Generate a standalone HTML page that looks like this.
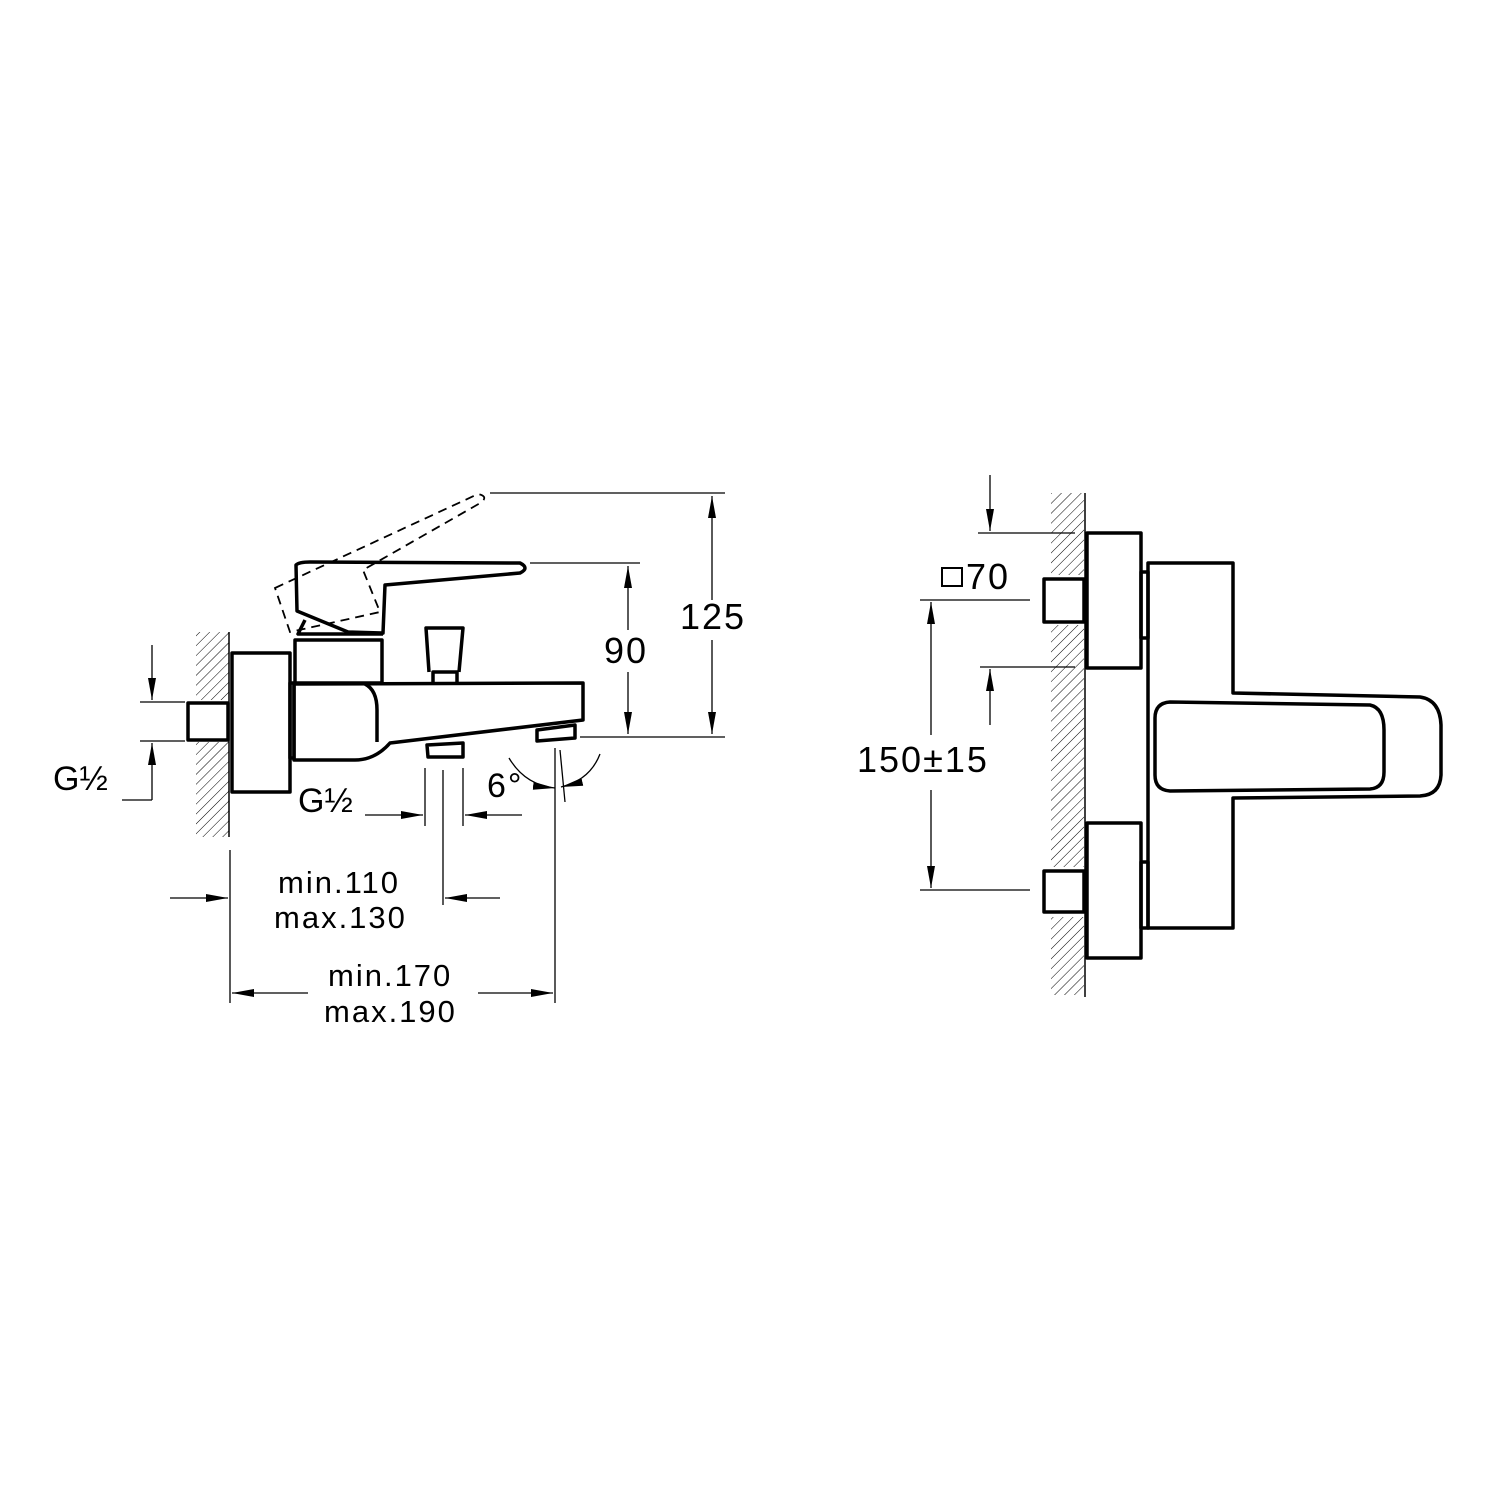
<!DOCTYPE html>
<html><head><style>body{margin:0;background:#fff}svg{display:block}</style></head>
<body>
<svg width="1500" height="1500" viewBox="0 0 1500 1500" xmlns="http://www.w3.org/2000/svg">
<defs>
<pattern id="h" width="7" height="7" patternUnits="userSpaceOnUse" patternTransform="rotate(45)">
<line x1="0" y1="0" x2="0" y2="7" stroke="#000" stroke-width="1"/>
</pattern>
<marker id="a" viewBox="0 0 22 10" refX="22" refY="5" markerWidth="22" markerHeight="10" markerUnits="userSpaceOnUse" orient="auto-start-reverse">
<path d="M0,1 L22,5 L0,9 Z" fill="#000"/>
</marker>
</defs>
<g font-family="Liberation Sans, sans-serif" font-size="34" fill="#000" letter-spacing="2">
<!-- LEFT VIEW -->
<rect x="196" y="632" width="33" height="68" fill="url(#h)"/>
<rect x="196" y="742" width="33" height="95" fill="url(#h)"/>
<line x1="229" y1="632" x2="229" y2="837" stroke="#000" stroke-width="1.5"/>
<g fill="none" stroke="#000" stroke-width="3.5" stroke-linejoin="round">
<rect x="188" y="703" width="40" height="37"/>
<rect x="232" y="653" width="58" height="139"/>
<rect x="290" y="683" width="4" height="75"/>
<rect x="295" y="640" width="87" height="43"/>
<path d="M294,684 L583,683 L583,720 L390,743 Q375,760 355,760 L294,760 Z"/>
<path d="M365,684 Q377,690 377,710 L377,742"/>
<path d="M537,730 L575,725 L575,738 L537,741 Z"/>
<path d="M427,745 L463,743 L463,757 L428,757 Z"/>
<path d="M433,683 L433,672 L457,672 L457,683 M429,672 L426,628 L463,628 L459,672"/>
<path d="M296,565 Q299,562 310,562 L520,563 Q530,568 520,573 L385,585 L383,633 L348,632 L297,611 Z"/>
<path d="M305,620 L298,634 L383,634"/>
</g>
<g fill="none" stroke="#000" stroke-width="1.8" stroke-dasharray="9,6">
<path d="M275,588 L478,494 Q488,496 482,502 L363,570 L380,612 L290,632 Z"/>
</g>
<!-- dims left -->
<g stroke="#000" stroke-width="1.3" fill="none">
<line x1="490" y1="493" x2="725" y2="493"/>
<line x1="530" y1="563" x2="640" y2="563"/>
<line x1="580" y1="737" x2="725" y2="737"/>
<line x1="712" y1="496" x2="712" y2="600" marker-start="url(#a)"/>
<line x1="712" y1="640" x2="712" y2="734" marker-end="url(#a)"/>
<line x1="628" y1="566" x2="628" y2="630" marker-start="url(#a)"/>
<line x1="628" y1="672" x2="628" y2="734" marker-end="url(#a)"/>
<line x1="140" y1="702" x2="185" y2="702"/>
<line x1="140" y1="741" x2="185" y2="741"/>
<line x1="152" y1="645" x2="152" y2="700" marker-end="url(#a)"/>
<line x1="152" y1="800" x2="152" y2="743" marker-end="url(#a)"/>
<line x1="122" y1="800" x2="152" y2="800"/>
<line x1="425" y1="768" x2="425" y2="826"/>
<line x1="463" y1="768" x2="463" y2="826"/>
<line x1="365" y1="815" x2="423" y2="815" marker-end="url(#a)"/>
<line x1="522" y1="815" x2="465" y2="815" marker-end="url(#a)"/>
<line x1="443" y1="770" x2="443" y2="905"/>
<line x1="230" y1="850" x2="230" y2="1003"/>
<line x1="555" y1="748" x2="555" y2="1003"/>
<line x1="560" y1="750" x2="565" y2="802"/>
<line x1="170" y1="898" x2="228" y2="898" marker-end="url(#a)"/>
<line x1="500" y1="898" x2="445" y2="898" marker-end="url(#a)"/>
<line x1="308" y1="993" x2="232" y2="993" marker-end="url(#a)"/>
<line x1="478" y1="993" x2="553" y2="993" marker-end="url(#a)"/>
<path d="M509,758 Q525,785 555,788" marker-end="url(#a)"/>
<path d="M600,754 Q590,780 561,787" marker-end="url(#a)"/>
</g>
<text x="680" y="629" font-size="36">125</text>
<text x="604" y="663" font-size="36">90</text>
<text x="53" y="790" letter-spacing="0">G½</text>
<text x="298" y="812" letter-spacing="0">G½</text>
<text x="487" y="797">6°</text>
<text x="278" y="893" font-size="31">min.110</text>
<text x="274" y="928" font-size="31">max.130</text>
<text x="328" y="986" font-size="31">min.170</text>
<text x="324" y="1022" font-size="31">max.190</text>

<!-- RIGHT VIEW -->
<rect x="1051" y="493" width="33" height="82" fill="url(#h)"/>
<rect x="1051" y="625" width="33" height="242" fill="url(#h)"/>
<rect x="1051" y="917" width="33" height="78" fill="url(#h)"/>
<line x1="1085" y1="493" x2="1085" y2="997" stroke="#000" stroke-width="1.5"/>
<g fill="none" stroke="#000" stroke-width="3.5" stroke-linejoin="round">
<rect x="1044" y="579" width="40" height="43"/>
<rect x="1044" y="871" width="40" height="41"/>
<rect x="1087" y="533" width="54" height="135"/>
<rect x="1087" y="823" width="54" height="135"/>
<rect x="1141" y="572" width="7" height="66"/>
<rect x="1141" y="862" width="7" height="66"/>
<path d="M1148,563 L1233,563 L1233,693 L1420,697 Q1440,700 1441,725 L1441,775 Q1440,795 1420,796 L1233,798 L1233,928 L1148,928 Z"/>
<path d="M1170,702 L1370,705 Q1384,708 1384,730 L1384,772 Q1384,788 1370,789 L1170,791 Q1155,790 1155,775 L1155,718 Q1155,703 1170,702 Z"/>
</g>
<g stroke="#000" stroke-width="1.3" fill="none">
<line x1="978" y1="533" x2="1075" y2="533"/>
<line x1="980" y1="667" x2="1075" y2="667"/>
<line x1="920" y1="600" x2="1030" y2="600"/>
<line x1="920" y1="890" x2="1030" y2="890"/>
<line x1="990" y1="475" x2="990" y2="531" marker-end="url(#a)"/>
<line x1="990" y1="725" x2="990" y2="669" marker-end="url(#a)"/>
<line x1="931" y1="735" x2="931" y2="602" marker-end="url(#a)"/>
<line x1="931" y1="790" x2="931" y2="888" marker-end="url(#a)"/>
<rect x="942" y="568" width="20" height="18" stroke-width="2"/>
</g>
<text x="966" y="589" font-size="36">70</text>
<text x="857" y="772" font-size="36">150±15</text>
</g>
</svg>
</body></html>
